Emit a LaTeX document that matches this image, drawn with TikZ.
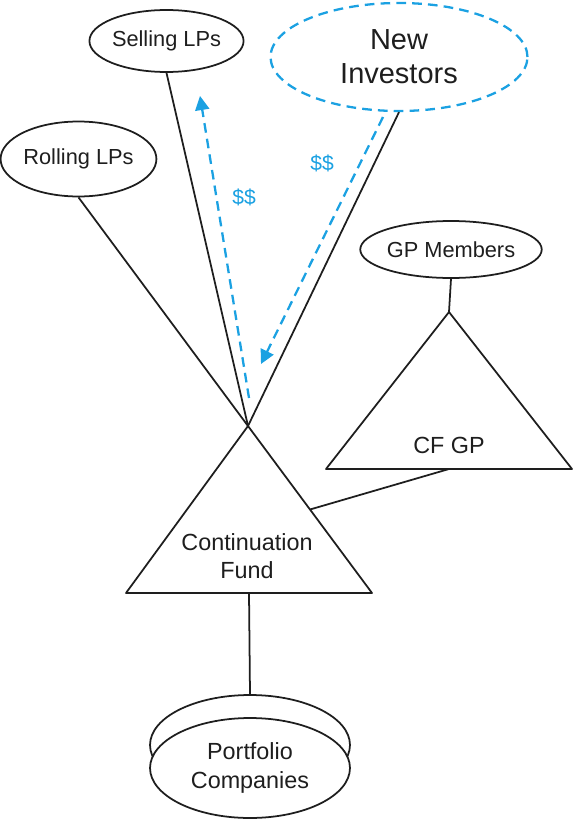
\documentclass[tikz,border=0pt]{standalone}
\usepackage{fontspec}
\setmainfont{Liberation Sans}
\usetikzlibrary{shapes.geometric,arrows.meta,calc}
\definecolor{cfblue}{HTML}{1BA1E2}
\definecolor{cfink}{HTML}{1E1E1E}
\begin{document}
\begin{tikzpicture}[x=0.02cm,y=-0.02cm,line join=round,line width=1pt,draw=cfink,text=cfink,
		font=\fontsize{12.4}{14}\selectfont,>={Triangle[length=8pt,width=8pt]},
		party/.style={draw,ellipse,inner sep=0pt,align=center},
		bigtext/.style={font=\fontsize{13.3}{16}\selectfont,align=center},
		cash/.style={draw=cfblue,line width=1.3pt,dash pattern=on 5.5pt off 3.5pt,->},
		cashlbl/.style={text=cfblue,font=\fontsize{12}{14}\selectfont}]
	\useasboundingbox (0,0) rectangle (577,821);
	% holders above the fund
	\node[party,minimum width=2.86cm,minimum height=1.24cm] (sell) at (166.5,41) {Selling LPs};
	\node[party,minimum width=2.86cm,minimum height=1.5cm] (roll) at (78.5,159) {Rolling LPs};
	\node[party,draw=cfblue,line width=1.3pt,dash pattern=on 5.5pt off 3.5pt,minimum width=5.14cm,minimum height=2.16cm,
		font=\fontsize{16.5}{19.3}\selectfont] (newinv) at (399,57) {New\\Investors};
	\node[party,minimum width=3.04cm,minimum height=1.14cm] (gpm) at (451,249.5) {GP Members};
	% continuation fund
	\coordinate (cftop) at (248,426); \coordinate (cfleft) at (126,593); \coordinate (cfright) at (372,593);
	\draw (cftop) -- (cfright) -- (cfleft) -- cycle;
	\node[bigtext] (cf) at (247,556) {Continuation\\Fund};
	% CF GP
	\coordinate (gptop) at (449,312); \coordinate (gpleft) at (326,469); \coordinate (gpright) at (572,469);
	\draw (gptop) -- (gpright) -- (gpleft) -- cycle;
	\node[bigtext,anchor=base] (cfgp) at (449,453) {CF GP};
	% portfolio companies
	\node[party,minimum width=4cm,minimum height=2cm] (portback) at (250,745) {};
	\node[party,fill=white,minimum width=4cm,minimum height=2cm,bigtext,font=\fontsize{13.3}{17}\selectfont] (port) at (250,768) {Portfolio\\Companies};
	% links
	\draw (roll.south) -- (cftop);
	\draw (sell.south) -- (cftop);
	\draw (newinv.south) -- (cftop);
	\draw (gpm.south) -- (gptop);
	\draw ($(gpleft)!0.5!(gpright)$) -- ($(cftop)!0.5!(cfright)$);
	\draw ($(cfleft)!0.5!(cfright)$) -- (portback.north);
	% cash flows
	\coordinate (up0) at (249,398); \coordinate (up1) at (200,96);
	\coordinate (dn0) at (383,117); \coordinate (dn1) at (261,364);
	\draw[cash] (up0) -- (up1);
	\draw[cash] (dn0) -- (dn1);
	\node[cashlbl] (selldollar) at (244,197) {\$\$};
	\node[cashlbl] (newdollar) at (322,163) {\$\$};
\end{tikzpicture}
\end{document}
